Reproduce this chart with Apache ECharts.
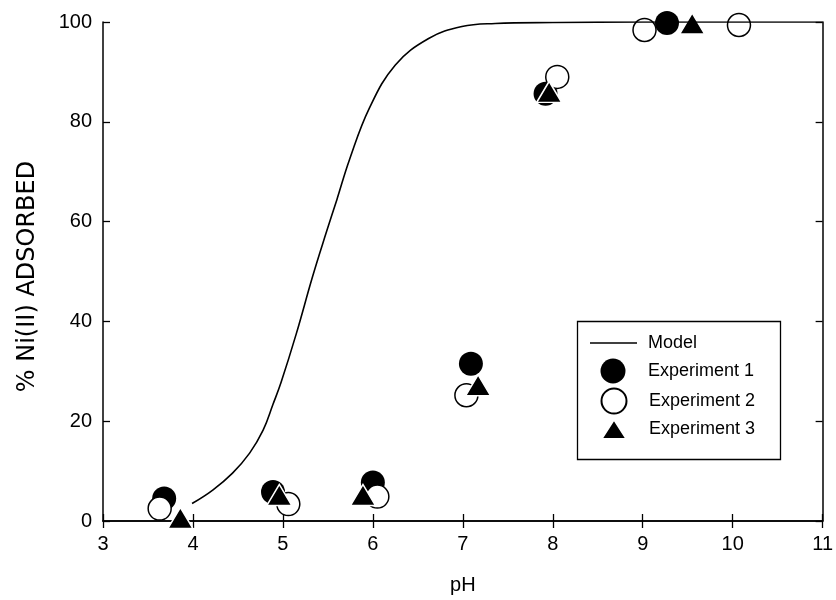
<!DOCTYPE html>
<html>
<head>
<meta charset="utf-8">
<script src="https://cdn.jsdelivr.net/npm/echarts@6/dist/echarts.min.js"></script>
<style>html,body{margin:0;padding:0;background:#fff;}#c{width:836px;height:600px;}</style>
</head>
<body>
<div id="c"></div>
<script>
// pH values and % adsorbed
var modelPH  = [3.99, 4.22, 4.44, 4.63, 4.78, 4.89, 4.98, 5.15, 5.33, 5.48, 5.60, 5.74, 5.96, 6.25, 6.62, 6.99, 7.36, 8.0, 9.0, 10.0, 11.0];
var modelPct = [3.5, 6.2, 9.6, 13.6, 18.2, 23.4, 27.8, 37.6, 49.0, 57.7, 64.4, 72.4, 82.7, 91.4, 96.7, 99.1, 99.7, 99.9, 100, 100, 100];

var exp1PH  = [3.68, 4.89, 6.0, 7.09, 7.92, 9.27];
var exp1Pct = [4.5, 5.8, 7.7, 31.5, 85.6, 99.8];

var exp2PH  = [3.63, 5.06, 6.05, 7.04, 8.05, 9.02, 10.07];
var exp2Pct = [2.5, 3.4, 4.9, 25.2, 89.0, 98.4, 99.4];

var exp3PH  = [3.86, 4.96, 5.89, 7.17, 7.96, 9.55];
var exp3Pct = [0.6, 5.2, 5.2, 27.2, 86.0, 99.7];

var xTicks = [3, 4, 5, 6, 7, 8, 9, 10, 11];
var yTicks = [0, 20, 40, 60, 80, 100];

function pairs(xs, ys) { return xs.map(function (x, i) { return [x, ys[i]]; }); }

var FONT = 'Liberation Sans, Arial, Helvetica, sans-serif';
var chart = echarts.init(document.getElementById('c'), null, {renderer: 'canvas'});

var axisLine = {show: true, lineStyle: {color: '#000', width: 1.5}};
var axisTick = {show: true, inside: true, length: 7, lineStyle: {color: '#000', width: 1.3}};
function legendText(padLeft) {
  return {fontFamily: FONT, fontSize: 18, color: '#000', lineHeight: 18, padding: [0, 0, 0, padLeft]};
}

chart.setOption({
  animation: false,
  backgroundColor: '#fff',
  grid: {left: 103, right: 11, top: 22, bottom: 79, containLabel: false},
  xAxis: [{
    type: 'value', min: xTicks[0], max: xTicks[xTicks.length - 1], interval: 1,
    position: 'bottom',
    name: 'pH', nameLocation: 'middle', nameGap: 54,
    nameTextStyle: {fontFamily: FONT, fontSize: 20, color: '#000'},
    axisLine: axisLine, axisTick: axisTick,
    axisLabel: {margin: 13, fontFamily: FONT, fontSize: 20, color: '#000'},
    splitLine: {show: false}
  }, {
    type: 'value', min: xTicks[0], max: xTicks[xTicks.length - 1], interval: 1,
    position: 'top',
    axisLine: axisLine, axisTick: axisTick,
    axisLabel: {show: false}, splitLine: {show: false}
  }],
  yAxis: [{
    type: 'value', min: yTicks[0], max: yTicks[yTicks.length - 1], interval: 20,
    position: 'left',
    name: '% Ni(II) ADSORBED', nameLocation: 'middle', nameGap: 63, nameRotate: 90,
    nameTextStyle: {fontFamily: 'DejaVu Sans, sans-serif', fontSize: 24, color: '#000', padding: [0, 10, 0, 0]},
    axisLine: axisLine, axisTick: axisTick,
    axisLabel: {margin: 11, fontFamily: FONT, fontSize: 20, color: '#000'},
    splitLine: {show: false}
  }, {
    type: 'value', min: yTicks[0], max: yTicks[yTicks.length - 1], interval: 20,
    position: 'right',
    axisLine: axisLine, axisTick: axisTick,
    axisLabel: {show: false}, splitLine: {show: false}
  }],
  legend: [
    {data: [{name: 'Model', icon: 'path://M0,0L47,0L47,1.3L0,1.3Z'}], left: 590, top: 334, orient: 'vertical', padding: 0, itemWidth: 47, itemHeight: 14, textStyle: legendText(6)},
    {data: ['Experiment 1'], left: 600.5, top: 358.5, orient: 'vertical', padding: 0, itemWidth: 25, itemHeight: 25, textStyle: legendText(17.5)},
    {data: ['Experiment 2'], left: 600.5, top: 387.5, orient: 'vertical', padding: 0, itemWidth: 25, itemHeight: 25, textStyle: legendText(17.5)},
    {data: [{name: 'Experiment 3', icon: 'path://M12.5,0L25,19.5L0,19.5Z'}], left: 600.5, top: 418.5, orient: 'vertical', padding: 0, itemWidth: 25, itemHeight: 19.5, textStyle: legendText(17.5)}
  ],
  graphic: [{
    type: 'rect', left: 575, top: 319, z: 100,
    shape: {width: 203, height: 138},
    style: {fill: 'none', stroke: '#000', lineWidth: 1.3}
  }],
  series: [{
    name: 'Model', type: 'line', data: pairs(modelPH, modelPct),
    smooth: 0.4, symbol: 'none', showSymbol: false,
    lineStyle: {color: '#000', width: 1.6}, itemStyle: {color: '#000'}
  }, {
    name: 'Experiment 1', type: 'scatter', data: pairs(exp1PH, exp1Pct),
    symbol: 'circle', symbolSize: 24,
    itemStyle: {color: '#000', opacity: 1}
  }, {
    name: 'Experiment 2', type: 'scatter', data: pairs(exp2PH, exp2Pct),
    symbol: 'circle', symbolSize: 23,
    itemStyle: {color: '#fff', borderColor: '#000', borderWidth: 1.5, opacity: 1}
  }, {
    name: 'Experiment 3', type: 'scatter', data: pairs(exp3PH, exp3Pct),
    symbol: 'triangle', symbolSize: [25, 21],
    itemStyle: {color: '#000', borderColor: '#fff', borderWidth: 1.5, opacity: 1}
  }]
});
</script>
</body>
</html>
